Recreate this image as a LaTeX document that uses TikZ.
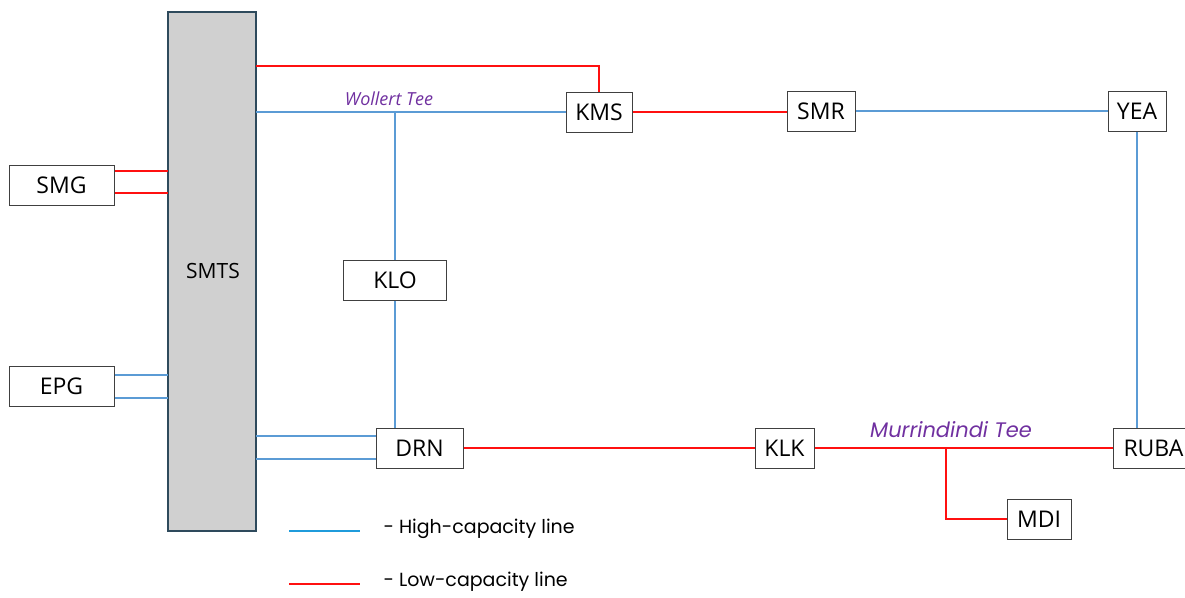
\documentclass[tikz,border=0pt]{standalone}
\usepackage{fontspec}
\setmainfont{Open Sans}
\newfontfamily\legendfont{Poppins}
\usepackage{tikz}
\usetikzlibrary{calc}

\definecolor{hiblue}{HTML}{5B9BD5}
\definecolor{legblue}{HTML}{1F9BDB}
\definecolor{lored}{HTML}{FF1010}
\definecolor{teepurple}{HTML}{7030A0}
\definecolor{busfill}{HTML}{D0D0D0}
\definecolor{busedge}{HTML}{2E4A5C}

\begin{document}
\begin{tikzpicture}[x=1pt, y=-1pt,
  station/.style={draw=black!75, line width=1pt, fill=white, inner sep=0pt,
    minimum height=40pt, font=\fontsize{23}{26}\selectfont},
  highcap/.style={hiblue, line width=1.7pt},
  lowcap/.style={lored, line width=1.7pt},
  teelabel/.style={teepurple},
]
\useasboundingbox (0,0) rectangle (1185,597);

% terminal station bus
\draw[busedge, line width=1.4pt, fill=busfill] (168,12) rectangle (256,531);
\node[font=\fontsize{21}{24}\selectfont] (smts) at (213,271) {SMTS};
\coordinate (smtsL) at (168,271);
\coordinate (smtsR) at (256,271);

% stations
\node[station, minimum width=105pt] (smg) at (61.5,185) {SMG};
\node[station, minimum width=105pt] (epg) at (61.5,386) {EPG};
\node[station, minimum width=66pt] (kms) at (599,112) {KMS};
\node[station, minimum width=68pt] (smr) at (821,111) {SMR};
\node[station, minimum width=58pt] (yea) at (1137,111) {YEA};
\node[station, minimum width=103pt] (klo) at (395,280) {KLO};
\node[station, minimum width=87pt] (drn) at (419.5,448) {DRN};
\node[station, minimum width=59pt] (klk) at (784.5,448) {KLK};
\node[station, minimum width=64pt] (mdi) at (1039,519) {MDI};
\node[station, minimum width=80pt, anchor=west, text width=72pt, align=left] (ruba) at (1113,448) {\hspace*{6pt}RUBA};

% tee points
\coordinate (wollert) at (395,112);
\coordinate (murri) at (946,448);
\node[teelabel, font=\itshape\fontsize{18}{21}\selectfont] (wolltxt) at (389,99) {Wollert Tee};
\node[teelabel, font=\legendfont\itshape\fontsize{21}{24}\selectfont] (murritxt) at (951,430) {Murrindindi Tee};

% generator feeders
\draw[lowcap] (smg.east |- 0,171) -- (smtsL |- 0,171);
\draw[lowcap] (smg.east |- 0,193) -- (smtsL |- 0,193);
\draw[highcap] (epg.east |- 0,375) -- (smtsL |- 0,375);
\draw[highcap] (epg.east |- 0,398) -- (smtsL |- 0,398);

% northern lines
\draw[lowcap] (smtsR |- 0,66) -- (kms.north |- 0,66) -- (kms.north);
\draw[highcap] (smtsR |- kms.west) -- (wollert) -- (kms.west);
\draw[highcap] (wollert) -- (wollert |- klo.north);
\draw[lowcap] (kms.east) -- (smr.west |- kms.east);
\draw[highcap] (smr.east) -- (yea.west);
\draw[highcap] (yea.south) -- (yea.south |- ruba.north);

% southern lines
\draw[highcap] (klo.south) -- (klo.south |- drn.north);
\draw[highcap] (smtsR |- 0,436) -- (drn.west |- 0,436);
\draw[highcap] (smtsR |- 0,459) -- (drn.west |- 0,459);
\draw[lowcap] (drn.east) -- (klk.west);
\draw[lowcap] (klk.east) -- (murri) -- (ruba.west |- murri);
\draw[lowcap] (murri) -- (murri |- mdi.west) -- (mdi.west);

% legend
\coordinate (hiA) at (289,531);
\coordinate (hiB) at (360,531);
\coordinate (loA) at (289,584);
\coordinate (loB) at (360,584);
\draw[legblue, line width=1.9pt] (hiA) -- (hiB);
\draw[lored, line width=1.9pt] (loA) -- (loB);
\node[anchor=west, font=\legendfont\fontsize{19}{22}\selectfont] (hitxt) at (380,529) {- High-capacity line};
\node[anchor=west, font=\legendfont\fontsize{19}{22}\selectfont] (lotxt) at (380,582) {- Low-capacity line};
\end{tikzpicture}
\end{document}
